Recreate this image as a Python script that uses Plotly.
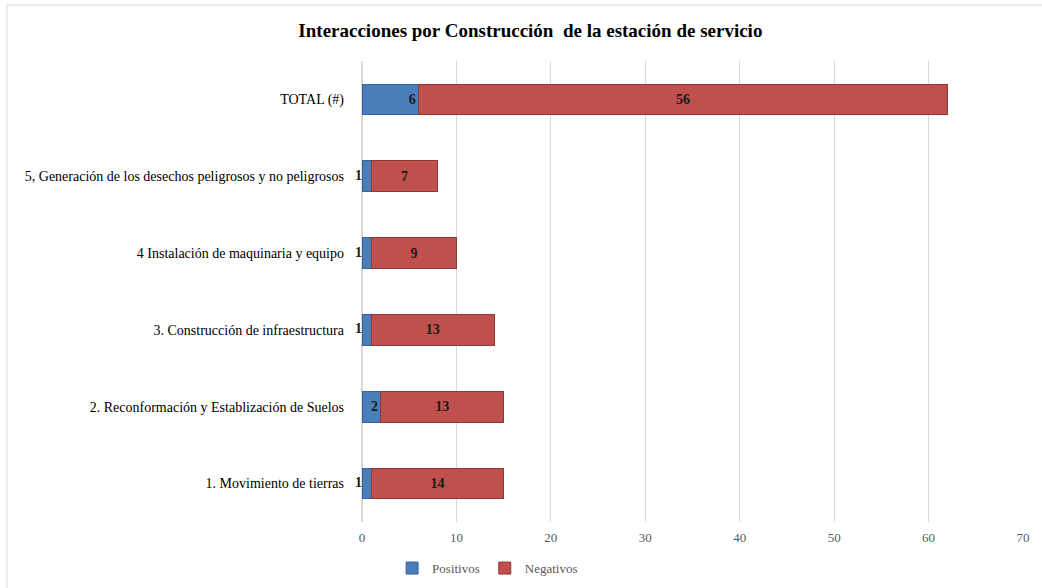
import plotly.graph_objects as go

# categories listed bottom to top
categories = [
    "1. Movimiento de tierras",
    "2. Reconformación y Establización de Suelos",
    "3. Construcción de infraestructura",
    "4 Instalación de maquinaria y equipo",
    "5, Generación de los desechos peligrosos y no peligrosos",
    "TOTAL (#)",
]
positivos = [1, 2, 1, 1, 1, 6]
negativos = [14, 13, 13, 9, 7, 56]

FONT = "Liberation Serif"
LABEL = dict(family=FONT, size=14, color="#1a1a1a", weight="bold")

fig = go.Figure()

pos_pos = ["inside" if v > 1 else "none" for v in positivos]
fig.add_trace(go.Bar(
    y=categories, x=positivos, orientation="h", name="Positivos",
    marker=dict(color="#4A7EBB", line=dict(color="#3A6296", width=1)),
    text=positivos, textposition=pos_pos, insidetextanchor="end",
    textfont=LABEL, width=0.4,
))
fig.add_trace(go.Bar(
    y=categories, x=negativos, orientation="h", name="Negativos",
    marker=dict(color="#C0504D", line=dict(color="#8C3836", width=1)),
    text=negativos, textposition="inside", insidetextanchor="middle",
    textfont=LABEL, width=0.4,
))

# labels for the narrow positive bars, placed left of the baseline
small = [(c, v) for c, v in zip(categories, positivos) if v <= 1]
fig.add_trace(go.Scatter(
    y=[c for c, v in small], x=[0] * len(small), mode="text",
    text=[str(v) for c, v in small], textposition="middle left",
    textfont=LABEL, showlegend=False, hoverinfo="skip", cliponaxis=False,
))

fig.update_layout(
    barmode="stack",
    width=1042, height=588,
    paper_bgcolor="white", plot_bgcolor="white",
    margin=dict(l=362, r=19, t=61, b=66, autoexpand=False),
    title=dict(text="<b>Interacciones por Construcción  de la estación de servicio</b>",
               x=0.509, xanchor="center", y=0.948, yanchor="middle",
               font=dict(family=FONT, size=19, color="#000000")),
    legend=dict(orientation="h", x=0.19, xanchor="center", y=-0.1, yanchor="middle",
                font=dict(family=FONT, size=13, color="#595959"),
                itemwidth=30, traceorder="normal"),
    font=dict(family=FONT),
    showlegend=True,
)

fig.update_xaxes(range=[0, 70], dtick=10, showgrid=True, gridcolor="#D9D9D9",
                 zeroline=True, zerolinecolor="#D9D9D9", ticks="",
                 tickfont=dict(family=FONT, size=13, color="#595959"), ticklabelstandoff=6)
fig.update_yaxes(categoryorder="array", categoryarray=categories, ticks="",
                 tickfont=dict(family=FONT, size=14, color="#000000"), ticklabelstandoff=17)

# chart border (left and top edges visible)
fig.add_shape(type="rect", xref="paper", yref="paper",
              x0=-0.537, x1=1.04, y0=-0.17, y1=1.1215,
              line=dict(color="#D9D9D9", width=1), layer="below")

fig.write_html("out.html", config={"displayModeBar": False},
               post_script="document.body.style.margin='0px';")
